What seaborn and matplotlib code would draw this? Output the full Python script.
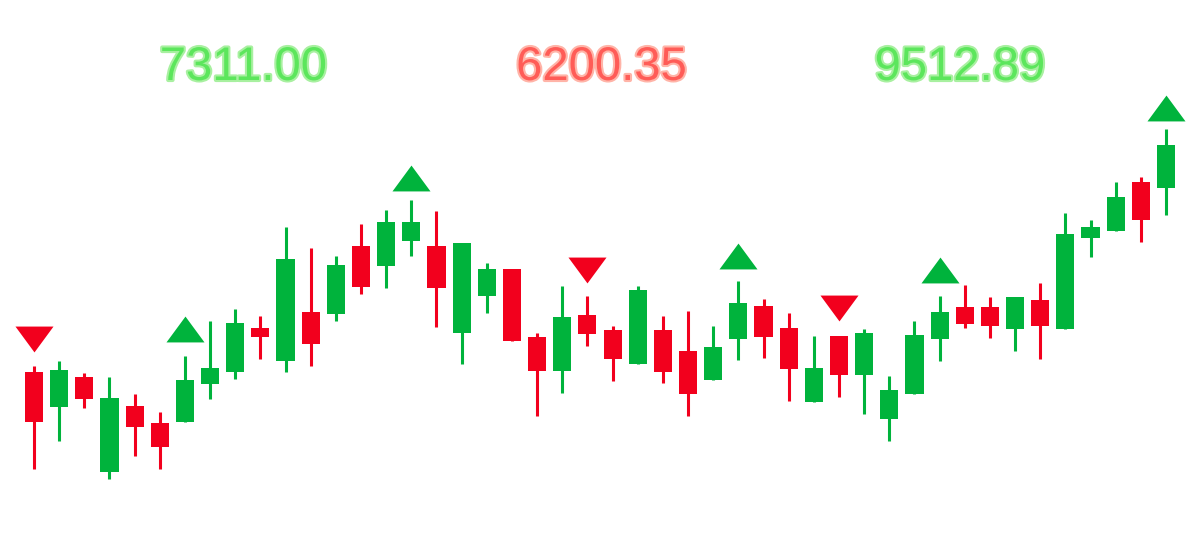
import numpy as np
import pandas as pd
import matplotlib

matplotlib.use("Agg")
import matplotlib.pyplot as plt
import matplotlib.patheffects as pe
from matplotlib.markers import MarkerStyle
import seaborn as sns

# ローソク足データ (上から読み取った値)
opens = [161, 126, 156, 61, 127, 110, 111, 149, 161, 205, 172, 221, 219, 287, 267, 292,
         287, 200, 237, 264, 196, 162, 218, 203, 169, 203, 182, 153, 194, 227, 205, 131,
         197, 158, 114, 139, 194, 226, 226, 204, 233, 204, 295, 302, 351, 345]
closes = [111, 163, 134, 135, 106, 86, 153, 165, 210, 196, 274, 189, 268, 246, 311, 311,
          245, 290, 264, 192, 162, 216, 199, 174, 243, 161, 139, 186, 230, 196, 164, 165,
          158, 200, 143, 198, 221, 209, 207, 236, 207, 299, 306, 336, 313, 388]
highs = [167, 172, 160, 156, 139, 121, 177, 212, 224, 217, 306, 285, 277, 309, 323, 333,
         322, 290, 270, 264, 200, 247, 237, 207, 247, 217, 222, 207, 252, 234, 220, 197,
         197, 204, 157, 212, 237, 248, 236, 236, 250, 320, 313, 351, 356, 404]
lows = [64, 92, 125, 54, 77, 64, 111, 134, 154, 174, 161, 167, 212, 239, 245, 277,
        206, 169, 220, 192, 117, 140, 187, 152, 169, 150, 117, 153, 173, 175, 132, 131,
        136, 119, 92, 139, 172, 205, 195, 182, 174, 204, 276, 302, 291, 318]

# シグナル (売買マーク)
buy_idx = [6, 15, 28, 36, 45]
buy_level = [204, 355.5, 277, 263, 425.5]
sell_idx = [0, 22, 32]
sell_level = [194, 263, 225]

# 上部の数値
header_values = ["7311.00", "6200.35", "9512.89"]
header_up = [True, False, True]

GREEN = "#00b33c"
RED = "#f2001d"

df = pd.DataFrame({"open": opens, "close": closes, "high": highs, "low": lows})
df["x"] = np.arange(len(df))
df["color"] = np.where(df["close"] >= df["open"], GREEN, RED)

sns.set_theme(style="white")
plt.rcParams["font.family"] = ["Liberation Sans", "DejaVu Sans"]

fig = plt.figure(figsize=(12, 5.33), dpi=100)
ax = fig.add_axes([0, 0, 1, 1])

# ヒゲ
ax.vlines(df["x"], df["low"], df["high"], colors=df["color"], linewidth=2.2, zorder=1)
# 実体
ax.bar(
    df["x"],
    df["close"] - df["open"],
    bottom=df["open"],
    width=0.72,
    color=df["color"],
    linewidth=0,
    zorder=2,
)

# 三角マーカー (横長)
up_tri = MarkerStyle([(-1, -0.68), (1, -0.68), (0, 0.68)])
down_tri = MarkerStyle([(-1, 0.68), (1, 0.68), (0, -0.68)])
buy_df = pd.DataFrame({"x": buy_idx, "y": buy_level})
sell_df = pd.DataFrame({"x": sell_idx, "y": sell_level})
sns.scatterplot(data=buy_df, x="x", y="y", marker=up_tri, s=750, color=GREEN,
                linewidth=0, ax=ax, zorder=3)
sns.scatterplot(data=sell_df, x="x", y="y", marker=down_tri, s=750, color=RED,
                linewidth=0, ax=ax, zorder=3)
ax.axis("off")

n = len(df)
pad = 1.351
ax.set_xlim(-pad, n - 1 + pad)
ax.set_ylim(0, 533)

# 上部の数値ラベル
for i, (val, up) in enumerate(zip(header_values, header_up)):
    col = "#5ce65c" if up else "#ff5c57"
    halo = "#a8f0a0" if up else "#ffb4a8"
    fig.text(
        0.203 + i * 0.2985,
        1 - 80 / 533,
        val,
        ha="center",
        va="baseline",
        fontsize=34,
        color=col,
        path_effects=[pe.withStroke(linewidth=3, foreground=halo)],
    )

fig.savefig("out.png", dpi=100, facecolor="white")
